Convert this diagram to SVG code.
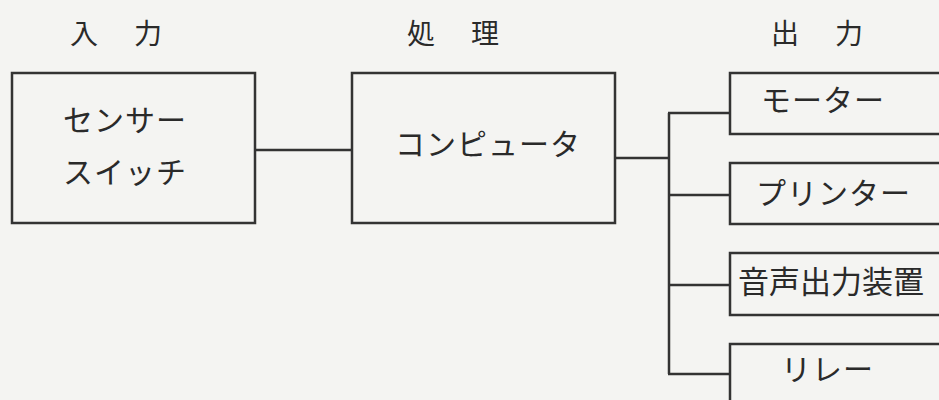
<svg xmlns="http://www.w3.org/2000/svg" width="939" height="400" viewBox="0 0 939 400">
  <style>
    .box { fill: none; stroke: #333; stroke-width: 2.5; }
    .conn { fill: none; stroke: #333; stroke-width: 2.5; }
    .lbl { font-family: "Noto Sans CJK JP", "Noto Sans CJK SC", sans-serif; font-size: 30px; fill: #2a2a2a; letter-spacing: 1px; }
    .head { font-family: "Noto Sans CJK JP", "Noto Sans CJK SC", sans-serif; font-size: 28px; fill: #2a2a2a; letter-spacing: 4px; text-anchor: middle; }
  </style>
  <rect x="0" y="0" width="939" height="400" fill="#f4f4f2"/>

  <g id="headings">
    <text class="head" x="118" y="44">入　力</text>
    <text class="head" x="455" y="44">処　理</text>
    <text class="head" x="819" y="44">出　力</text>
  </g>

  <g id="input">
    <rect class="box" x="12" y="73" width="243" height="150"/>
    <text class="lbl" x="63" y="131">センサー</text>
    <text class="lbl" x="63" y="183">スイッチ</text>
  </g>

  <g id="computer">
    <rect class="box" x="352" y="73" width="263" height="150"/>
    <text class="lbl" x="395" y="155">コンピュータ</text>
  </g>

  <g id="motor">
    <path class="box" d="M945,73 H730 V134 H945"/>
    <text class="lbl" x="761" y="111">モーター</text>
  </g>

  <g id="printer">
    <path class="box" d="M945,163 H730 V224 H945"/>
    <text class="lbl" x="756" y="204">プリンター</text>
  </g>

  <g id="sound">
    <path class="box" d="M945,253 H730 V315 H945"/>
    <text class="lbl" x="738" y="293" style="font-size:31px;letter-spacing:0">音声出力装置</text>
  </g>

  <g id="relay">
    <path class="box" d="M945,344 H730 V410"/>
    <text class="lbl" x="781" y="380">リレー</text>
  </g>

  <g id="connectors">
    <line class="conn" x1="255" y1="150" x2="352" y2="150"/>
    <line class="conn" x1="615" y1="158" x2="669" y2="158"/>
    <line class="conn" x1="669" y1="113" x2="669" y2="374"/>
    <line class="conn" x1="668" y1="113" x2="730" y2="113"/>
    <line class="conn" x1="669" y1="195" x2="730" y2="195"/>
    <line class="conn" x1="669" y1="285" x2="730" y2="285"/>
    <line class="conn" x1="668" y1="374" x2="730" y2="374"/>
  </g>
</svg>
